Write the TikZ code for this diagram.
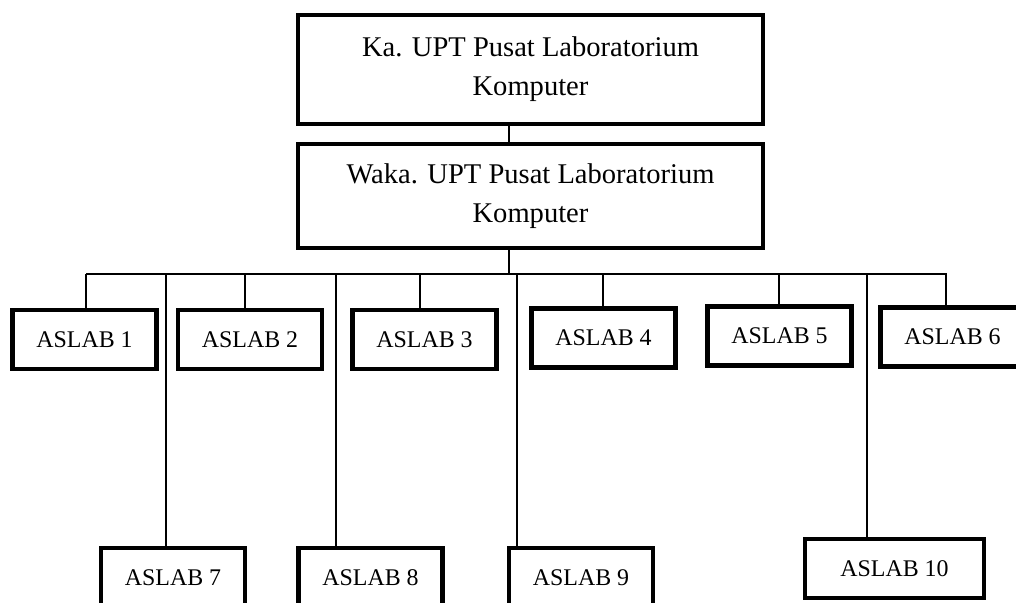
\documentclass[tikz,border=0pt]{standalone}
\usepackage{fontspec}
\setmainfont{Liberation Serif}
\usetikzlibrary{positioning}
\tikzset{head/.style = {draw, line width=3pt, align=center, inner sep=0pt, minimum width=11.625cm, font=\fontsize{20.3}{27.7}\selectfont}}
\tikzset{aslab/.style = {draw, line width=3pt, inner sep=0pt, minimum width=3.6cm, minimum height=1.475cm, font=\fontsize{17}{20}\selectfont}}
\tikzset{link/.style = {line width=0.9pt}}

\begin{document}
\begin{tikzpicture}[x=0.025cm, y=-0.025cm]
  \useasboundingbox (0,0) rectangle (1016,603);
  \node [head, minimum height=2.725cm] (ka) at (530.5,69.5) {Ka. UPT Pusat Laboratorium\\Komputer};
  \node [head, minimum height=2.6cm] (waka) at (530.5,196) {Waka. UPT Pusat Laboratorium\\Komputer};

  \node [aslab] (a1) at (84.5,339.5) {ASLAB 1};
  \node [aslab] (a2) at (250,339.5) {ASLAB 2};
  \node [aslab] (a3) at (424.5,339.5) {ASLAB 3};
  \node [aslab] (a4) at (603.5,338) {ASLAB 4};
  \node [aslab] (a5) at (779.5,336) {ASLAB 5};
  \node [aslab] (a6) at (952.5,337) {ASLAB 6};
  \node [aslab] (a7) at (173,577.5) {ASLAB 7};
  \node [aslab] (a8) at (370.5,577.5) {ASLAB 8};
  \node [aslab] (a9) at (581,577.5) {ASLAB 9};
  \node [aslab, minimum width=4.475cm] (a10) at (894.5,568.5) {ASLAB 10};

  % trunk and bar
  \coordinate (kw) at (509,0);
  \coordinate (barL) at (86,274);
  \coordinate (barR) at (947,274);
  \draw [link] (ka.south -| kw) -- (waka.north -| kw);
  \draw [link] (waka.south -| kw) -- (barL -| kw);
  \draw [link] (barL) -- (barR);

  % drops to each aslab
  \foreach \n/\x in {a1/86, a2/245, a3/420, a4/603, a5/779, a6/946, a7/166, a8/336, a9/517, a10/867}
    {\coordinate (t\n) at (\x,274);
     \draw [link] (t\n) -- (t\n |- \n.north);}
\end{tikzpicture}
\end{document}
